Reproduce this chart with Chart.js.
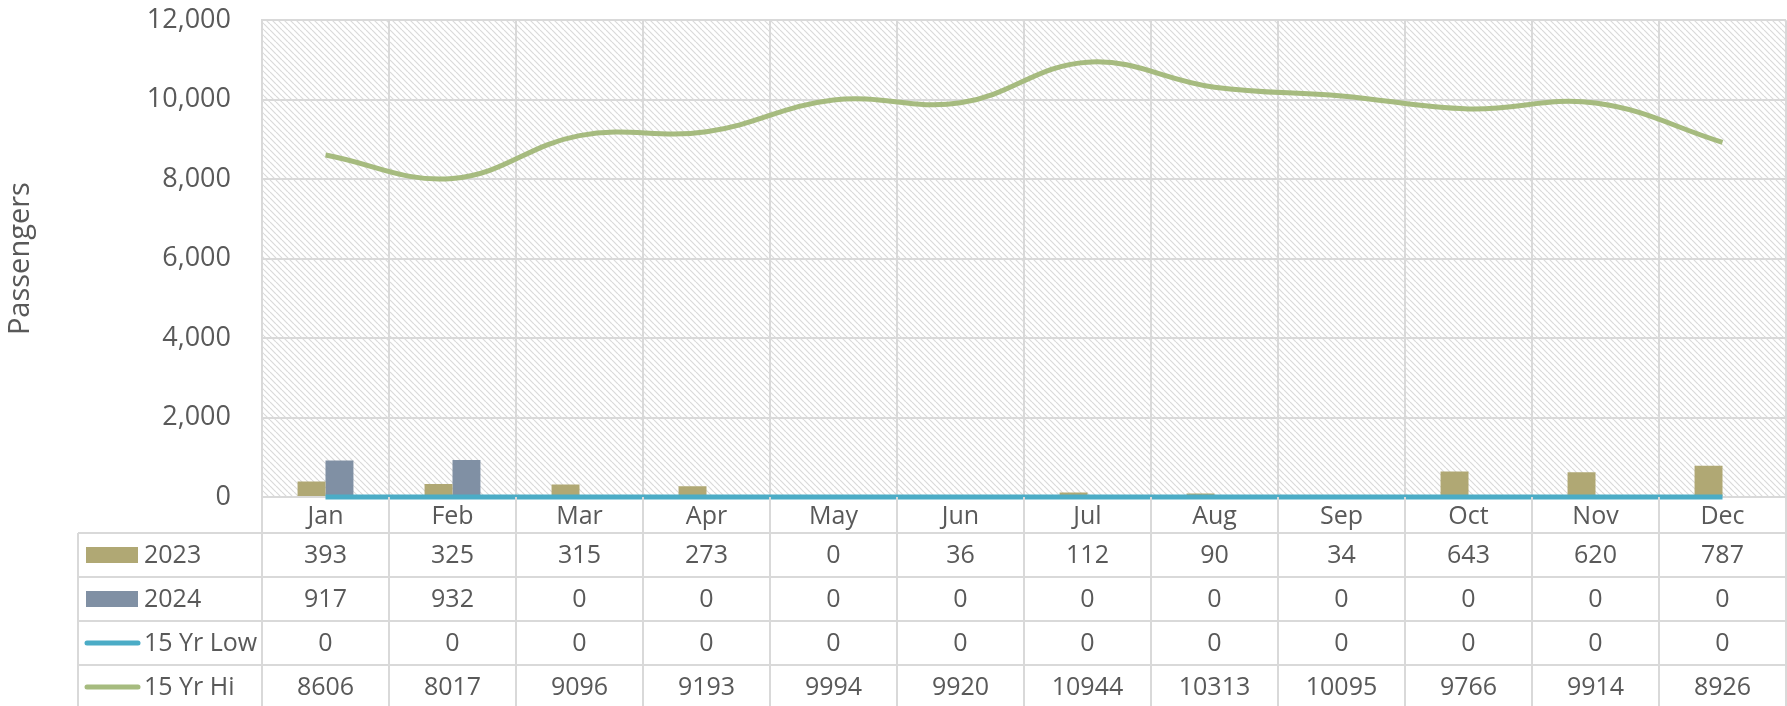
<!DOCTYPE html>
<html>
<head>
<meta charset="utf-8">
<script src="https://cdn.jsdelivr.net/npm/chart.js@4.4.1/dist/chart.umd.min.js"></script>
<style>
  html, body { margin: 0; padding: 0; background: #fff; }
  #wrap { width: 1787px; height: 706px; }
</style>
</head>
<body>
<div id="wrap"><canvas id="myChart1" width="1787" height="706"></canvas></div>
<script>
var months = ["Jan","Feb","Mar","Apr","May","Jun","Jul","Aug","Sep","Oct","Nov","Dec"];
var y2023 = [393,325,315,273,0,36,112,90,34,643,620,787];
var y2024 = [917,932,0,0,0,0,0,0,0,0,0,0];
var low15 = [0,0,0,0,0,0,0,0,0,0,0,0];
var hi15 = [8606,8017,9096,9193,9994,9920,10944,10313,10095,9766,9914,8926];
var yTicks = [0,2000,4000,6000,8000,10000,12000];

var txtColor = "#595959";
var gridColor = "#D9D9D9";
var fontFam = "'Open Sans', sans-serif";

// diagonal hatch for the plot area
function makeHatch() {
  var n = 6;
  var c = document.createElement("canvas");
  c.width = n; c.height = n;
  var g = c.getContext("2d");
  g.fillStyle = "#ffffff";
  g.fillRect(0, 0, n, n);
  g.strokeStyle = "#dadada";
  g.lineWidth = 1.2;
  for (var k = -n; k <= n; k += n) {
    g.beginPath();
    g.moveTo(k, 0);
    g.lineTo(k + n, n);
    g.stroke();
  }
  return c;
}

var hatchPlugin = {
  id: "hatch",
  beforeDraw: function (chart) {
    var ctx = chart.ctx, ca = chart.chartArea;
    ctx.save();
    ctx.fillStyle = "#fff";
    ctx.fillRect(0, 0, chart.width, chart.height);
    ctx.fillStyle = ctx.createPattern(makeHatch(), "repeat");
    ctx.fillRect(ca.left, ca.top, ca.right - ca.left, ca.bottom - ca.top);
    ctx.restore();
  }
};

// data table below the chart
var tablePlugin = {
  id: "dataTable",
  afterDraw: function (chart) {
    var ctx = chart.ctx, ca = chart.chartArea, xs = chart.scales.x;
    var catW = (ca.right - ca.left) / months.length;
    var tableLeft = 78, rowH = 44, firstRow = ca.bottom + 36;
    var rows = [
      { name: "2023", data: y2023, color: "#B0A874", kind: "bar" },
      { name: "2024", data: y2024, color: "#8090A4", kind: "bar" },
      { name: "15 Yr Low", data: low15, color: "#4BACC6", kind: "line" },
      { name: "15 Yr Hi", data: hi15, color: "#A6BB7F", kind: "line" }
    ];
    ctx.save();
    ctx.strokeStyle = gridColor;
    ctx.lineWidth = 2;
    // vertical lines
    for (var i = 0; i <= months.length; i++) {
      var x = Math.round(ca.left + i * catW);
      ctx.beginPath();
      ctx.moveTo(x, ca.bottom);
      ctx.lineTo(x, chart.height);
      ctx.stroke();
    }
    ctx.beginPath();
    ctx.moveTo(tableLeft, firstRow);
    ctx.lineTo(tableLeft, chart.height);
    ctx.stroke();
    // horizontal lines
    for (var r = 0; r <= rows.length; r++) {
      var y = firstRow + r * rowH;
      ctx.beginPath();
      ctx.moveTo(tableLeft, y);
      ctx.lineTo(ca.right, y);
      ctx.stroke();
    }
    // text
    ctx.font = "25px " + fontFam;
    ctx.fillStyle = txtColor;
    ctx.textBaseline = "middle";
    rows.forEach(function (row, r) {
      var cy = firstRow + r * rowH + rowH / 2;
      ctx.textAlign = "center";
      ctx.fillStyle = txtColor;
      row.data.forEach(function (v, j) {
        ctx.fillText(String(v), xs.getPixelForValue(j), cy + 1);
      });
      // legend key
      if (row.kind === "bar") {
        ctx.fillStyle = row.color;
        ctx.fillRect(86, cy - 8, 52, 16);
      } else {
        ctx.strokeStyle = row.color;
        ctx.lineWidth = 5;
        ctx.lineCap = "round";
        ctx.beginPath();
        ctx.moveTo(87, cy);
        ctx.lineTo(138, cy);
        ctx.stroke();
      }
      ctx.fillStyle = txtColor;
      ctx.textAlign = "left";
      ctx.fillText(row.name, 144, cy + 1);
    });
    ctx.restore();
  }
};

new Chart(document.getElementById("myChart1"), {
  type: "bar",
  data: {
    labels: months,
    datasets: [
      {
        label: "2023",
        type: "bar",
        backgroundColor: "#B0A874",
        data: y2023,
        order: 2,
        categoryPercentage: 0.44,
        barPercentage: 1.0,
      },
      {
        label: "2024",
        type: "bar",
        backgroundColor: "#8090A4",
        data: y2024,
        order: 2,
        categoryPercentage: 0.44,
        barPercentage: 1.0,
      },
      {
        label: "15 Yr Low",
        type: "line",
        borderColor: "#4BACC6",
        borderWidth: 5,
        pointRadius: 0,
        clip: 10,
        data: low15,
        order: 1,
      },
      {
        label: "15 Yr Hi",
        type: "line",
        borderColor: "#A6BB7F",
        borderWidth: 5,
        pointRadius: 0,
        tension: 0.4,
        clip: 10,
        data: hi15,
        order: 0,
      },
    ],
  },
  options: {
    responsive: false,
    animation: false,
    layout: { padding: { top: 0, right: 1, bottom: 0, left: 0 } },
    plugins: {
      legend: { display: false },
      tooltip: { enabled: false },
    },
    scales: {
      x: {
        offset: true,
        grid: { color: gridColor, lineWidth: 2, drawTicks: false, offset: true },
        border: { color: gridColor, width: 2 },
        ticks: {
          color: txtColor,
          font: { family: fontFam, size: 25 },
          padding: 5,
          maxRotation: 0,
          minRotation: 0,
        },
        afterFit: function (s) { s.height = 209; },
      },
      y: {
        min: 0,
        max: 12000,
        afterBuildTicks: function (s) {
          s.ticks = yTicks.map(function (v) { return { value: v }; });
        },
        grid: {
          color: gridColor,
          lineWidth: 2,
          drawTicks: true,
          tickLength: 27,
          tickColor: "rgba(0,0,0,0)",
        },
        border: { color: gridColor, width: 2 },
        ticks: {
          color: txtColor,
          font: { family: fontFam, size: 27 },
          padding: 4,
          callback: function (v) { return v.toLocaleString("en-US"); },
        },
        title: {
          display: true,
          text: "Passengers",
          color: txtColor,
          font: { family: fontFam, size: 29 },
          padding: { top: 3, bottom: 0 },
        },
        afterFit: function (s) { s.width = 262; },
      },
    },
  },
  plugins: [hatchPlugin, tablePlugin],
});
</script>
</body>
</html>
